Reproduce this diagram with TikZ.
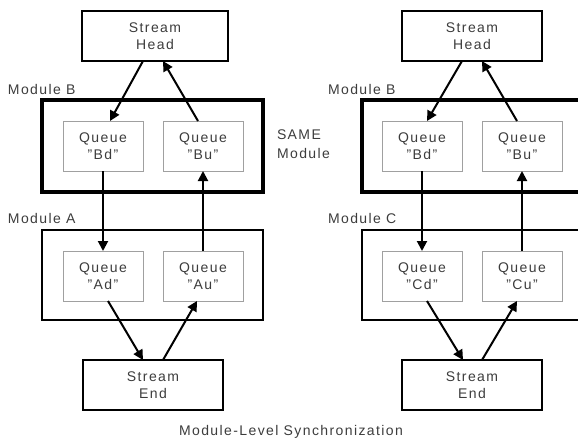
\documentclass[tikz,border=0pt]{standalone}
\usepackage{fontspec}
\setmainfont{Liberation Sans}[LetterSpace=10]
\usetikzlibrary{arrows.meta}
\definecolor{txt}{HTML}{3C3C3C}
\definecolor{qgray}{HTML}{A0A0A0}
\begin{document}
\begin{tikzpicture}[x=1pt,y=-1pt,
  every node/.style={inner sep=0pt, outer sep=0pt, font=\fontsize{14}{17}\selectfont, text=txt, align=center},
  streambox/.style={draw=black, line width=2.2pt, minimum height=50pt},
  queuebox/.style={draw=qgray, line width=1pt, minimum width=80pt, minimum height=50pt},
  modthick/.style={draw=black, line width=4pt, minimum height=92pt},
  modthin/.style={draw=black, line width=2pt, minimum height=90pt},
  conn/.style={draw=black, line width=2pt, -{Triangle[length=10pt,width=10pt]}},
  lbl/.style={anchor=west, align=left}
]
\useasboundingbox (0,0) rectangle (578,439);
\clip (0,0) rectangle (578,439);

% ---------- left column ----------
\node[streambox, minimum width=146pt] (headL) at (155,36) {Stream\\Head};
\node[modthick, minimum width=221pt] (modBL) at (152.5,146) {};
\node[queuebox] (BdL) at (103,146) {Queue\\"Bd"};
\node[queuebox] (BuL) at (203,146) {Queue\\"Bu"};
\node[modthin, minimum width=221pt] (modA) at (152.5,275) {};
\node[queuebox] (Ad) at (103,276) {Queue\\"Ad"};
\node[queuebox] (Au) at (203,276) {Queue\\"Au"};
\node[streambox, minimum width=140pt] (endL) at (153,385) {Stream\\End};

\node[lbl] (lblBL) at (8,89) {Module B};
\node[lbl] (lblA) at (8,218) {Module A};
\node[lbl, font=\fontsize{14}{19}\selectfont] (same) at (277,144.5) {SAME\\Module};

\draw[conn] ([xshift=-12pt]headL.south) -- ([xshift=7pt]BdL.north);
\draw[conn] ([xshift=-5pt]BuL.north) -- ([xshift=8pt]headL.south);
\draw[conn] (BdL.south) -- (Ad.north);
\draw[conn] (Au.north) -- (BuL.south);
\draw[conn] ([xshift=5pt]Ad.south) -- ([xshift=-10pt]endL.north);
\draw[conn] ([xshift=10pt]endL.north) -- ([xshift=-6pt]Au.south);

% ---------- right column ----------
\node[streambox, minimum width=140pt] (headR) at (472,36) {Stream\\Head};
\node[modthick, minimum width=238pt] (modBR) at (481,146) {};
\node[queuebox] (BdR) at (422,146) {Queue\\"Bd"};
\node[queuebox] (BuR) at (522,146) {Queue\\"Bu"};
\node[modthin, minimum width=238pt] (modC) at (481,275) {};
\node[queuebox] (Cd) at (422,276) {Queue\\"Cd"};
\node[queuebox] (Cu) at (522,276) {Queue\\"Cu"};
\node[streambox, minimum width=140pt] (endR) at (472,385) {Stream\\End};

\node[lbl] (lblBR) at (328,89) {Module B};
\node[lbl] (lblC) at (328,218) {Module C};

\draw[conn] ([xshift=-10pt]headR.south) -- ([xshift=5pt]BdR.north);
\draw[conn] ([xshift=-5pt]BuR.north) -- ([xshift=10pt]headR.south);
\draw[conn] (BdR.south) -- (Cd.north);
\draw[conn] (Cu.north) -- (BuR.south);
\draw[conn] ([xshift=5pt]Cd.south) -- ([xshift=-9pt]endR.north);
\draw[conn] ([xshift=10pt]endR.north) -- ([xshift=-5pt]Cu.south);

% ---------- caption ----------
\node (caption) at (291,432) {Module-Level Synchronization};
\end{tikzpicture}
\end{document}
